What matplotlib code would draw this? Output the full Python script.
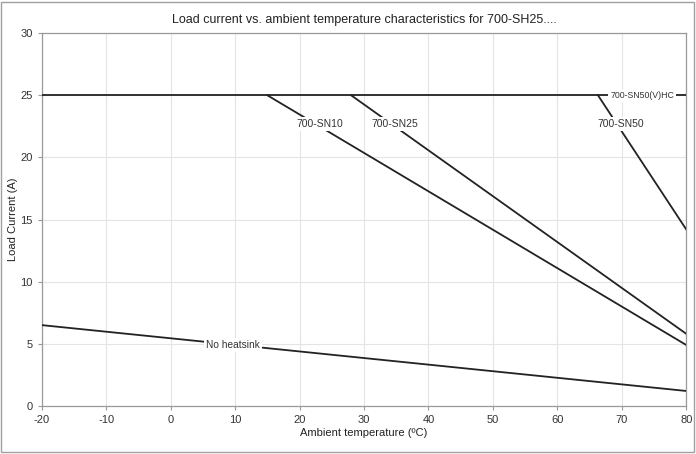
import matplotlib
matplotlib.use("Agg")
import matplotlib.pyplot as plt
from matplotlib.patches import Rectangle

plt.rcParams['font.family'] = ['Liberation Sans', 'DejaVu Sans']
plt.rcParams['axes.unicode_minus'] = False

title = "Load current vs. ambient temperature characteristics for 700-SH25...."
xlabel = "Ambient temperature (ºC)"
ylabel = "Load Current (A)"

# Series (temperature, current)
sn50vhc_x = [-20, 80]
sn50vhc_y = [25, 25]
sn10_x = [15, 80]
sn10_y = [25, 4.9]
sn25_x = [28, 80]
sn25_y = [25, 5.8]
sn50_x = [66.3, 80]
sn50_y = [25, 14.2]
noheat_x = [-20, 80]
noheat_y = [6.5, 1.2]

# Labels: (text, x, y, size)
labels = [
    ("700-SN10", 23.2, 22.7, 7.5),
    ("700-SN25", 34.8, 22.7, 7.5),
    ("700-SN50", 69.8, 22.7, 7.5),
    ("700-SN50(V)HC", 73.2, 25.0, 6.3),
    ("No heatsink", 9.7, 4.9, 7.3),
]

xticks = list(range(-20, 81, 10))
yticks = list(range(0, 31, 5))

fig = plt.figure(figsize=(6.96, 4.54), dpi=100)
ax = fig.add_axes([0.060, 0.106, 0.926, 0.821])

fig.patches.append(Rectangle((0.002, 0.004), 0.995, 0.992, transform=fig.transFigure,
                             fill=False, edgecolor='#a0a0a0', linewidth=1.0))

lc = '#222222'
for xs, ys in [(sn50vhc_x, sn50vhc_y), (sn10_x, sn10_y), (sn25_x, sn25_y),
               (sn50_x, sn50_y), (noheat_x, noheat_y)]:
    ax.plot(xs, ys, color=lc, linewidth=1.3, zorder=3)

for t, x, y, s in labels:
    ax.text(x, y, t, fontsize=s, color='#333333', ha='center', va='center', zorder=4,
            bbox=dict(facecolor='white', edgecolor='none', pad=1.5))

ax.set_xlim(-20, 80)
ax.set_ylim(0, 30)
ax.set_xticks(xticks)
ax.set_yticks(yticks)
ax.tick_params(labelsize=8, colors='#333333', length=3, color='#999999')
ax.grid(True, color='#e4e4e4', linewidth=0.8, zorder=0)
for s in ax.spines.values():
    s.set_color('#999999')
    s.set_linewidth(0.9)

ax.set_title(title, fontsize=9, color='#222222', pad=7)
ax.set_xlabel(xlabel, fontsize=8, color='#222222', labelpad=2)
ax.set_ylabel(ylabel, fontsize=8, color='#222222', labelpad=2)

fig.savefig("out.png", dpi=100)
